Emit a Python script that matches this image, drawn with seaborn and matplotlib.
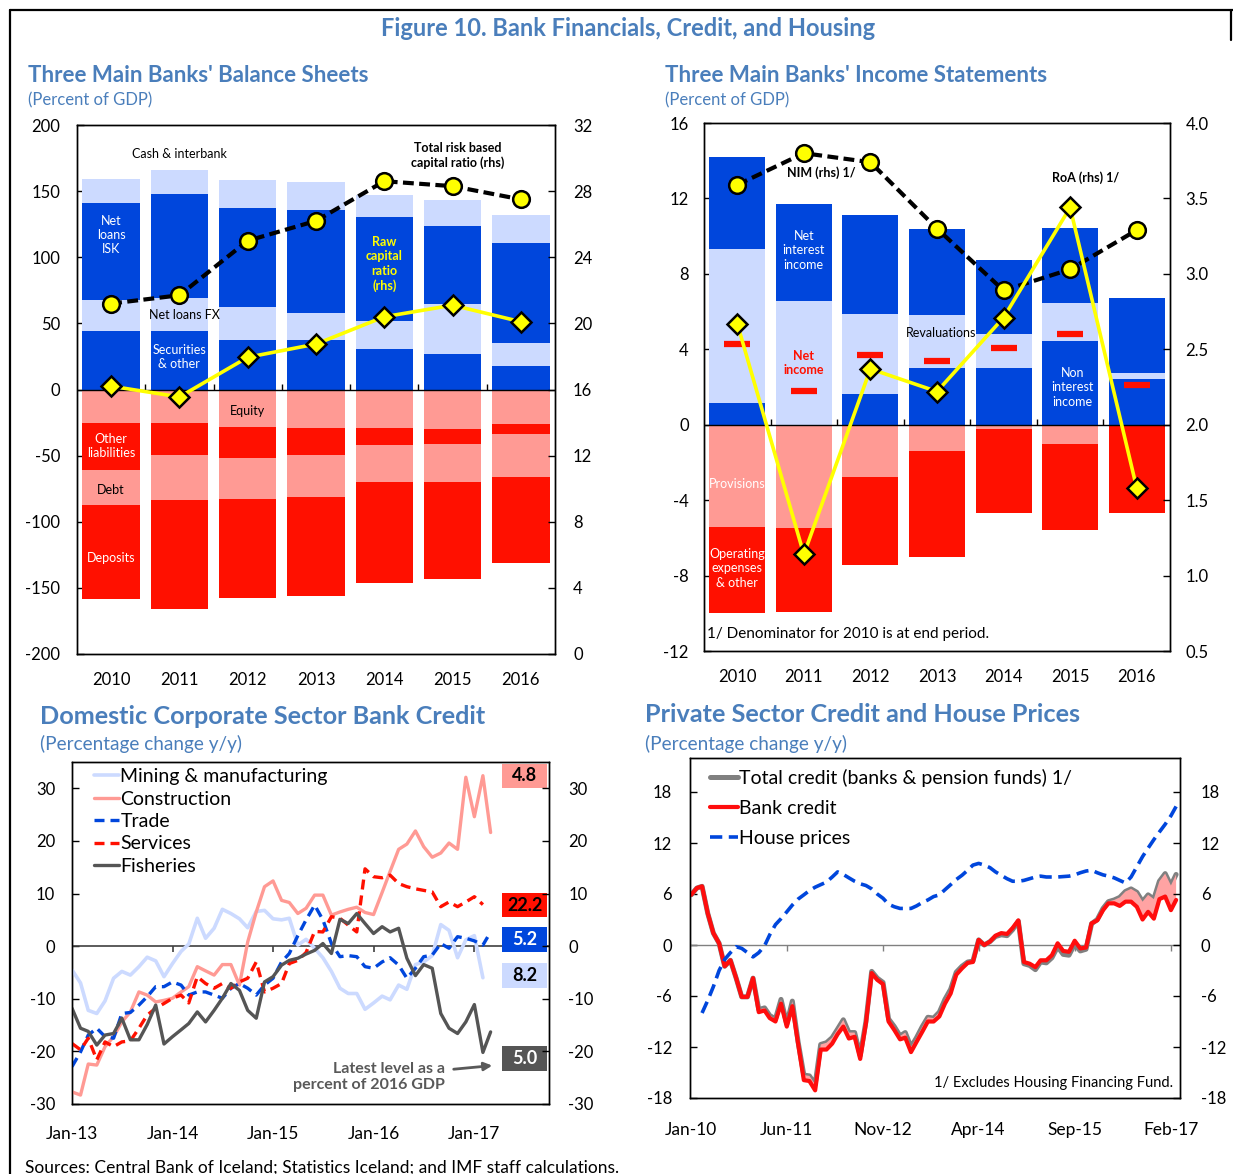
import matplotlib
matplotlib.use("Agg")
import matplotlib.pyplot as plt
import numpy as np
import pandas as pd
import seaborn as sns
from matplotlib import font_manager
from matplotlib.lines import Line2D
from matplotlib.patches import Rectangle

W, H = 1233, 1174

# ---- top left: balance sheets (percent of GDP) ----
years = ["2010", "2011", "2012", "2013", "2014", "2015", "2016"]
securities = [44.6, 44.0, 37.3, 37.3, 30.8, 26.6, 17.9]
loans_fx = [23.2, 25.2, 24.9, 20.7, 21.3, 37.9, 16.9]
loans_isk = [72.9, 78.5, 75.4, 78.0, 78.3, 59.1, 75.9]
cash = [18.8, 18.3, 20.5, 20.7, 16.8, 19.9, 21.3]
equity = [-25.5, -25.5, -28.0, -28.9, -29.4, -30.0, -26.4]
other_liab = [-35.1, -23.8, -23.6, -21.0, -12.4, -10.9, -7.0]
debt = [-27.1, -34.2, -31.1, -31.4, -28.3, -29.2, -32.5]
deposits = [-70.7, -82.2, -75.1, -74.6, -76.2, -73.2, -65.3]
total_capital = [21.2, 21.7, 25.0, 26.2, 28.6, 28.3, 27.5]
raw_capital = [16.2, 15.55, 17.95, 18.75, 20.4, 21.1, 20.1]

# ---- top right: income statements (percent of GDP) ----
non_int_income = [1.14, 0.0, 1.65, 3.0, 3.0, 4.42, 2.42]
revaluations = [8.17, 6.56, 4.2, 2.82, 1.79, 2.04, 0.33]
net_int_income = [4.89, 5.15, 5.29, 4.57, 3.97, 3.95, 3.99]
provisions = [-5.44, -5.5, -2.75, -1.38, -0.24, -1.02, 0.0]
op_expenses = [-4.54, -4.44, -4.70, -5.63, -4.44, -4.58, -4.66]
net_income = [4.28, 1.77, 3.69, 3.38, 4.05, 4.81, 2.1]
nim = [3.59, 3.80, 3.74, 3.30, 2.89, 3.03, 3.29]
roa = [2.67, 1.14, 2.37, 2.22, 2.71, 3.44, 1.58]

# ---- bottom left: corporate credit, % y/y, monthly from Jan-13 ----
mining = [-4.5, -7.0, -12.2, -12.8, -10.4, -6.1, -4.8, -5.5, -3.9, -2.1,
          -2.8, -5.8, -3.3, -1.0, 0.4, 5.3, 1.5, 3.4, 7.0, 6.2,
          5.2, 3.5, 6.6, 6.8, 5.2, 5.0, 5.3, 0.2, 1.3, -0.4,
          -2.2, -4.8, -8.0, -9.0, -9.0, -12.0, -10.8, -9.5, -10.2, -7.4,
          -8.2, -3.5, -3.0, -1.8, 4.1, 3.0, -2.2, 1.2, 2.0, -6.0]
construction = [-27.7, -28.3, -22.4, -22.6, -19.1, -17.2, -14.4, -12.5, -8.7, -9.3,
                -10.6, -10.3, -9.9, -8.7, -7.7, -3.9, -4.7, -5.5, -3.5, -3.5,
                -7.4, 0.8, 6.5, 11.3, 12.4, 8.7, 8.3, 6.2, 7.2, 9.7,
                9.7, 5.9, 6.5, 7.0, 7.4, 6.4, 6.0, 10.2, 14.2, 18.4,
                19.4, 21.9, 18.9, 16.9, 17.7, 19.6, 18.4, 32.1, 24.6, 32.4,
                21.6]
trade = [-22.9, -20.1, -16.9, -15.6, -17.2, -17.5, -12.8, -12.6, -11.2, -9.6,
         -7.7, -7.7, -6.8, -7.4, -9.3, -8.7, -8.7, -9.3, -9.9, -8.0,
         -7.1, -8.0, -9.3, -7.4, -6.1, -3.0, -1.4, 2.0, 5.0, 7.8,
         5.0, 0.5, -2.0, -1.8, -2.0, -3.9, -4.2, -3.0, -2.2, -3.6,
         -6.1, -4.2, -2.0, -1.7, 0.5, -0.4, 1.8, 1.5, 1.0, 0.2,
         2.7]
services = [-18.5, -19.7, -17.5, -21.6, -18.2, -19.1, -18.2, -18.0, -15.6, -13.1,
            -11.8, -10.9, -9.9, -9.3, -10.8, -5.8, -7.1, -8.0, -7.1, -8.0,
            -6.8, -6.1, -3.0, -8.7, -8.0, -7.1, -3.3, -2.7, -1.2, 2.8,
            2.7, 5.6, 5.3, 4.0, 2.7, 14.7, 13.2, 13.0, 13.5, 11.9,
            11.3, 10.9, 10.6, 10.3, 7.5, 8.4, 7.5, 8.4, 9.4, 7.9]
fisheries = [-11.8, -15.6, -16.2, -18.8, -16.9, -16.6, -13.7, -17.8, -17.8, -14.9,
             -11.2, -18.6, -17.2, -15.9, -14.7, -12.5, -14.4, -12.2, -9.9, -7.1,
             -8.4, -12.2, -13.7, -6.8, -5.8, -3.6, -2.7, -2.3, -1.5, -0.8,
             0.5, -1.4, 5.1, 4.3, 6.2, 4.3, 2.4, 3.7, 2.7, 3.4,
             -2.3, -5.6, -3.5, -4.2, -12.8, -15.6, -16.6, -14.4, -11.1, -20.2,
             -16.3]
corp_names = ["Mining & manufacturing", "Construction", "Trade", "Services", "Fisheries"]
corp_gdp = ["8.2", "4.8", "5.2", "22.2", "5.0"]
corp_ticks = ["Jan-13", "Jan-14", "Jan-15", "Jan-16", "Jan-17"]

# ---- bottom right: private credit and house prices, % y/y, monthly from Jan-10 ----
bank_credit = [5.9, 6.7, 6.9, 3.7, 1.4, 0.2, -2.5, -1.8, -3.9, -6.1,
               -6.1, -3.9, -7.9, -7.7, -8.6, -9.0, -6.9, -9.6, -7.2, -11.6,
               -15.9, -16.0, -17.1, -12.3, -12.3, -11.6, -10.5, -9.6, -11.0, -10.8,
               -13.4, -9.2, -3.3, -4.1, -4.6, -9.0, -10.0, -11.1, -10.9, -12.6,
               -11.4, -10.2, -9.0, -9.0, -8.4, -6.9, -5.7, -3.5, -2.75, -2.1,
               -2.0, 0.6, 0.0, 0.4, 1.1, 1.4, 1.3, 2.0, 2.9, -2.0,
               -2.2, -2.6, -1.8, -1.8, -1.2, 0.2, -0.7, -0.8, 0.5, -0.4,
               -0.3, 2.55, 2.9, 4.1, 4.9, 4.9, 4.6, 5.1, 5.1, 4.5,
               3.0, 3.9, 3.1, 5.4, 5.7, 4.1, 5.3]
total_credit = [5.9, 6.7, 6.9, 3.7, 1.4, 0.2, -2.5, -1.8, -3.9, -6.1,
                -6.1, -3.9, -7.6, -7.4, -8.3, -8.7, -6.4, -9.3, -6.6, -11.4,
                -15.3, -15.4, -16.4, -11.7, -11.5, -10.9, -9.9, -8.8, -10.3, -10.3,
                -13.0, -9.0, -3.1, -3.9, -4.4, -8.7, -9.6, -10.7, -10.3, -12.0,
                -10.9, -9.6, -8.5, -8.6, -7.9, -6.4, -5.2, -3.2, -2.5, -2.0,
                -1.9, 0.6, 0.0, 0.4, 1.0, 1.2, 1.1, 1.8, 2.8, -2.2,
                -2.4, -2.9, -2.0, -2.1, -1.5, -0.2, -1.1, -1.2, 0.1, -0.7,
                -0.5, 2.5, 3.0, 4.3, 5.1, 5.3, 5.6, 6.3, 6.6, 6.2,
                5.1, 5.9, 5.4, 7.5, 8.4, 7.0, 8.3]
house_prices = [-8.0, -6.5, -4.9, -3.0, -1.7, -0.9, -0.2, -0.4, -0.9, -1.4,
                -0.9, -0.1, 1.2, 2.4, 3.1, 3.9, 4.7, 5.4, 5.9, 6.4,
                6.8, 7.1, 7.4, 8.0, 8.6, 8.3, 7.9, 7.5, 7.2, 7.0,
                6.6, 6.0, 5.5, 4.8, 4.5, 4.3, 4.3, 4.3, 4.6, 5.0,
                5.3, 5.7, 5.9, 6.5, 7.1, 7.7, 8.2, 8.8, 9.4, 9.6,
                9.4, 9.1, 8.6, 8.2, 7.8, 7.5, 7.5, 7.6, 7.8, 8.0,
                8.1, 8.0, 8.0, 8.0, 8.05, 8.1, 8.25, 8.5, 8.7, 8.8,
                8.5, 8.25, 8.1, 7.9, 7.6, 7.3, 8.0, 9.2, 10.4, 11.4,
                12.4, 13.3, 14.2, 15.2, 16.3]
priv_ticks = ["Jan-10", "Jun-11", "Nov-12", "Apr-14", "Sep-15", "Feb-17"]

BLUE = "#0046DC"
LBLUE = "#CCDAFF"
RED = "#FF1000"
LRED = "#FF9A94"
YELLOW = "#FFFF00"
GREY = "#555555"
TITLE = "#4A7EBB"

sns.set_theme(style="white")
installed = {f.name for f in font_manager.fontManager.ttflist}
BODY = "Lato" if "Lato" in installed else "DejaVu Sans"
HEAD = "Liberation Sans Narrow" if "Liberation Sans Narrow" in installed else BODY
plt.rcParams["font.family"] = [BODY, "DejaVu Sans"]
plt.rcParams["axes.edgecolor"] = "black"
plt.rcParams["axes.linewidth"] = 1.0
plt.rcParams["axes.unicode_minus"] = False
plt.rcParams["text.color"] = "black"

fig = plt.figure(figsize=(W / 100, H / 100), dpi=100)


def axes_px(left, top, right, bottom):
    return fig.add_axes([left / W, 1 - bottom / H, (right - left) / W, (bottom - top) / H])


def ftext(x, y, s, **kw):
    fig.text(x / W, 1 - y / H, s, **kw)


def zero_line(ax, ticks, up, color="black", lw=1.0):
    lo, hi = ax.get_ylim()
    frac = -lo / (hi - lo)
    hpx = ax.get_position().height * H
    d = 6 / hpx
    ax.axhline(0, color=color, lw=lw, zorder=3)
    ax.vlines(ticks, frac, frac + (d if up else -d), transform=ax.get_xaxis_transform(),
              color=color, lw=lw, zorder=3)


def stack(ax, segments, colors):
    # overlay cumulative totals, outermost first
    cum = np.cumsum(np.array(segments), axis=0)
    for level in range(len(segments) - 1, -1, -1):
        sns.barplot(x=years, y=cum[level], color=colors[level], width=0.84, saturation=1,
                    errorbar=None, linewidth=0, ax=ax, zorder=2)


def style_axes(ax, axr, lpad, rpad, xpad, xsize=12):
    ax.tick_params(axis="y", direction="in", length=5, width=1, labelsize=12, pad=lpad,
                   left=True, colors="black")
    ax.tick_params(axis="x", length=0, labelsize=xsize, pad=xpad, colors="black")
    axr.tick_params(axis="y", direction="in", length=5, width=1, labelsize=12, pad=rpad,
                    right=True, colors="black")
    for a in (ax, axr):
        for sp in a.spines.values():
            sp.set_visible(True)
            sp.set_color("black")
            sp.set_linewidth(1.0)
        a.set_xlabel("")
        a.set_ylabel("")
        a.grid(False)


pos = np.arange(len(years))
bounds = pos[:-1] + 0.5

# ================= panel 1 =================
ax1 = axes_px(77, 125, 555, 654)
stack(ax1, [securities, loans_fx, loans_isk, cash], [BLUE, LBLUE, BLUE, LBLUE])
stack(ax1, [equity, other_liab, debt, deposits], [LRED, RED, LRED, RED])
ax1.set_xlim(-0.5, len(years) - 0.5)
ax1.set_ylim(-200, 200)
ax1.set_yticks(range(-200, 201, 50))
zero_line(ax1, bounds, up=True)
lab = dict(ha="center", va="center", fontsize=9)
ax1.text(1, 177.7, "Cash & interbank", **lab)
ax1.text(0, 117, "Net\nloans\nISK", color="white", linespacing=1.2, **lab)
ax1.text(1.07, 56.3, "Net loans FX", **lab)
ax1.text(1, 24.7, "Securities\n& other", color="white", linespacing=1.2, **lab)
ax1.text(2, -16.3, "Equity", **lab)
ax1.text(0, -43, "Other\nliabilities", color="white", linespacing=1.2, **lab)
ax1.text(0, -76, "Debt", **lab)
ax1.text(0, -127.5, "Deposits", color="white", **lab)
ax1.text(4, 95, "Raw\ncapital\nratio\n(rhs)", color=YELLOW, fontweight="bold",
         linespacing=1.25, **lab)
ax1.text(5.07, 177, "Total risk based\ncapital ratio (rhs)", fontweight="bold",
         linespacing=1.2, **lab)

ax1r = ax1.twinx()
sns.lineplot(x=pos, y=total_capital, ax=ax1r, color="black", lw=3, linestyle=(0, (2.6, 1.3)),
             marker="o", ms=12, markerfacecolor=YELLOW, markeredgecolor="black",
             markeredgewidth=1.8, zorder=5)
sns.lineplot(x=pos, y=raw_capital, ax=ax1r, color=YELLOW, lw=2.6, marker="D", ms=10,
             markerfacecolor=YELLOW, markeredgecolor="black", markeredgewidth=1.8, zorder=5)
ax1r.set_ylim(0, 32)
ax1r.set_yticks(range(0, 33, 4))
ax1r.set_xlim(-0.5, len(years) - 0.5)
style_axes(ax1, ax1r, 12, 13, 13)

# ================= panel 2 =================
ax2 = axes_px(704, 123, 1170, 651)
stack(ax2, [non_int_income, revaluations, net_int_income], [BLUE, LBLUE, BLUE])
stack(ax2, [provisions, op_expenses], [LRED, RED])
ax2.plot(pos, net_income, ls="none", marker="_", ms=19, mew=4.5, color=RED, zorder=4)
ax2.set_xlim(-0.5, len(years) - 0.5)
ax2.set_ylim(-12, 16)
ax2.set_yticks(range(-12, 17, 4))
zero_line(ax2, bounds, up=True)
ax2.text(1.26, 13.36, "NIM (rhs) 1/", fontweight="bold", **lab)
ax2.text(5.24, 13.1, "RoA (rhs) 1/", fontweight="bold", **lab)
ax2.text(1, 9.25, "Net\ninterest\nincome", color="white", linespacing=1.25, **lab)
ax2.text(1, 3.27, "Net\nincome", color=RED, fontweight="bold", linespacing=1.25, **lab)
ax2.text(3.06, 4.87, "Revaluations", **lab)
ax2.text(5.03, 2.0, "Non\ninterest\nincome", color="white", linespacing=1.25, **lab)
ax2.text(0, -3.14, "Provisions", color="white", **lab)
ax2.text(0, -7.6, "Operating\nexpenses\n& other", color="white", linespacing=1.25, **lab)
ax2.text(-0.45, -11.1, "1/ Denominator for 2010 is at end period.", ha="left", va="center",
         fontsize=11)

ax2r = ax2.twinx()
sns.lineplot(x=pos, y=nim, ax=ax2r, color="black", lw=3, linestyle=(0, (2.6, 1.3)),
             marker="o", ms=12, markerfacecolor=YELLOW, markeredgecolor="black",
             markeredgewidth=1.8, zorder=5)
sns.lineplot(x=pos, y=roa, ax=ax2r, color=YELLOW, lw=2.6, marker="D", ms=10,
             markerfacecolor=YELLOW, markeredgecolor="black", markeredgewidth=1.8, zorder=5)
ax2r.set_ylim(0.5, 4.0)
ax2r.set_yticks(np.arange(0.5, 4.01, 0.5))
ax2r.set_yticklabels([f"{v:.1f}" for v in np.arange(0.5, 4.01, 0.5)])
ax2r.set_xlim(-0.5, len(years) - 0.5)
style_axes(ax2, ax2r, 11, 11, 13)

# ================= panel 3 =================
ax3 = axes_px(72, 762, 549, 1104)
start3 = pd.Timestamp("2013-01-01")
corp = [mining, construction, trade, services, fisheries]
corp_col = [LBLUE, LRED, BLUE, RED, GREY]
corp_ls = ["-", "-", (0, (3, 1.8)), (0, (3, 1.8)), "-"]
corp_lw = [2.6, 2.4, 2.4, 2.4, 2.4]
for name, vals, c, ls, lw in zip(corp_names, corp, corp_col, corp_ls, corp_lw):
    d = pd.date_range(start3, periods=len(vals), freq="MS")
    sns.lineplot(x=d, y=vals, ax=ax3, color=c, linestyle=ls, lw=lw, label=name, zorder=4)
ax3.set_ylim(-30, 35)
ax3.set_yticks(range(-30, 31, 10))
t3 = pd.date_range(start3, periods=len(corp_ticks), freq="12MS")
ax3.set_xticks(t3)
ax3.set_xticklabels(corp_ticks)
ax3.set_xlim(start3, start3 + pd.Timedelta(days=1732))
zero_line(ax3, t3[1:], up=False, color="#404040", lw=1.2)
ax3.legend(loc="upper left", bbox_to_anchor=(0.03, 1.005), frameon=False, fontsize=14,
           handlelength=1.3, handletextpad=0.05, labelspacing=0.28, borderaxespad=0)
# latest level boxes (percent of 2016 GDP)
box_y = [-5.6, 32.35, 1.3, 7.8, -21.35]
txt_col = ["black", "black", "white", "black", "white"]
for val, c, yc, tc in zip(corp_gdp, corp_col, box_y, txt_col):
    ax3.add_patch(Rectangle((0.902, yc - 2.35), 0.094, 4.7, transform=ax3.get_yaxis_transform(),
                            facecolor=c, edgecolor="none", zorder=5, clip_on=False))
    ax3.text(0.949, yc, val, transform=ax3.get_yaxis_transform(), ha="center", va="center",
             fontsize=13, fontweight="bold", color=tc, zorder=6)
ax3.annotate("Latest level as a\npercent of 2016 GDP",
             xy=(start3 + pd.DateOffset(months=50, days=6), -22.7),
             xytext=(start3 + pd.DateOffset(months=44, days=15), -24.9),
             ha="right", va="center", fontsize=11.5, fontweight="bold", color="#595959",
             arrowprops=dict(arrowstyle="-|>", color="#595959", lw=2, mutation_scale=12,
                             shrinkA=4, shrinkB=0))
ax3r = ax3.twinx()
ax3r.set_ylim(-30, 35)
ax3r.set_yticks(range(-30, 31, 10))
style_axes(ax3, ax3r, 12, 14, 16, xsize=12.5)

# ================= panel 4 =================
ax4 = axes_px(690, 758, 1180, 1098)
start4 = pd.Timestamp("2010-01-01")
d4 = pd.date_range(start4, periods=len(bank_credit), freq="MS")
dh = pd.date_range(start4 + pd.DateOffset(months=len(bank_credit) - len(house_prices)),
                   periods=len(house_prices), freq="MS")
tc_arr = np.array(total_credit)
bc_arr = np.array(bank_credit)
sns.lineplot(x=d4, y=total_credit, ax=ax4, color="#808080", lw=3.6,
             label="Total credit (banks & pension funds) 1/", zorder=3)
ax4.fill_between(d4, bc_arr, tc_arr, where=tc_arr > bc_arr, interpolate=True,
                 color="#FFA3A3", lw=0, zorder=3.5)
sns.lineplot(x=d4, y=bank_credit, ax=ax4, color="#FF0D0D", lw=3.0, label="Bank credit", zorder=4)
sns.lineplot(x=dh, y=house_prices, ax=ax4, color=BLUE, lw=2.6, linestyle=(0, (3.4, 1.8)),
             label="House prices", zorder=4)
ax4.set_ylim(-18, 22)
ax4.set_yticks(range(-18, 19, 6))
t4 = pd.date_range(start4, periods=len(priv_ticks), freq="17MS")
ax4.set_xticks(t4)
ax4.set_xticklabels(priv_ticks)
ax4.set_xlim(start4 - pd.Timedelta(days=6), start4 + pd.Timedelta(days=2637))
zero_line(ax4, t4[1:], up=False, color="#808080", lw=1.0)
ax4.legend(loc="upper left", bbox_to_anchor=(0.02, 1.0), frameon=False, fontsize=14,
           handlelength=1.4, handletextpad=0.05, labelspacing=0.68, borderaxespad=0.15)
ax4.text(0.985, 0.045, "1/ Excludes Housing Financing Fund.", transform=ax4.transAxes,
         ha="right", va="center", fontsize=10.5)
ax4r = ax4.twinx()
ax4r.set_ylim(-18, 22)
ax4r.set_yticks(range(-18, 19, 6))
style_axes(ax4, ax4r, 13, 15, 17, xsize=12.5)

# ================= titles and frame =================
ftext(628, 28, "Figure 10. Bank Financials, Credit, and Housing", ha="center", va="center",
      fontsize=17, fontweight="bold", color=TITLE, family=[HEAD, "DejaVu Sans"])
heads = [(28, 75, "Three Main Banks' Balance Sheets", 100, "(Percent of GDP)", 16.0),
         (665, 76, "Three Main Banks' Income Statements", 100, "(Percent of GDP)", 16.0),
         (40, 716, "Domestic Corporate Sector Bank Credit", 744, "(Percentage change y/y)", 18.2),
         (645, 715, "Private Sector Credit and House Prices", 744, "(Percentage change y/y)", 18.2)]
for x, y, t, ys, s, fs in heads:
    ftext(x, y, t, ha="left", va="center", fontsize=fs, fontweight="bold", color=TITLE,
          family=[HEAD, "DejaVu Sans"])
    ftext(x, ys, s, ha="left", va="center", fontsize=fs * 0.75, color=TITLE,
          family=[HEAD, "DejaVu Sans"])
ftext(25, 1168, "Sources: Central Bank of Iceland; Statistics Iceland; and IMF staff calculations.",
      ha="left", va="center", fontsize=12.5)

for xs, ys in [([10, 10], [10, H]), ([10, W], [10, 10]), ([W - 2, W - 2], [10, 40])]:
    fig.add_artist(Line2D([v / W for v in xs], [1 - v / H for v in ys],
                          transform=fig.transFigure, color="black", lw=1.6))

fig.savefig("out.png", dpi=100)
